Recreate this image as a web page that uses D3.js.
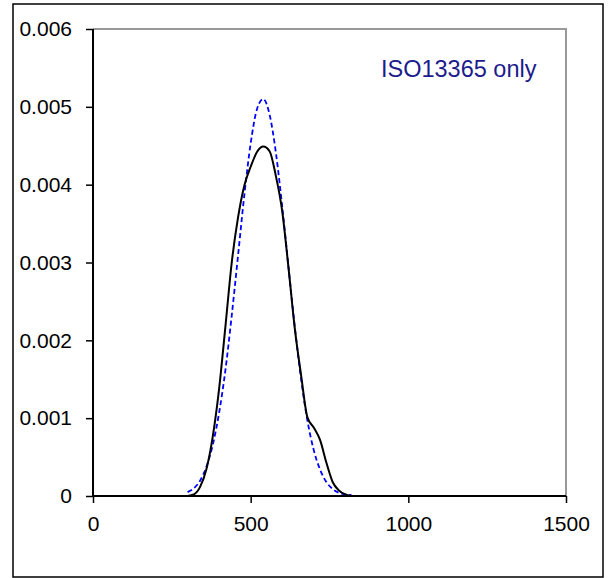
<!DOCTYPE html>
<html>
<head>
<meta charset="utf-8">
<script src="https://cdn.jsdelivr.net/npm/d3@7"></script>
<style>
  body { margin: 0; background: #fff; }
  svg text { font-family: "Liberation Sans", Arial, sans-serif; }
</style>
</head>
<body>
<div id="chart"></div>
<script>
const width = 610, height = 578;

// x positions
const xValues = [300, 320, 340, 360, 380, 400, 420, 440, 460, 480, 500, 520, 540, 560,
                 580, 600, 620, 640, 660, 680, 700, 720, 740, 760, 780, 800, 820];

// solid black curve
const blackValues = [0, 0.00002, 0.00012, 0.00035, 0.00077, 0.00138, 0.00218, 0.00300, 0.00358,
                     0.00399, 0.00423, 0.00442, 0.00449, 0.00443, 0.00411, 0.00366, 0.00293,
                     0.00215, 0.00155, 0.00101, 0.00088, 0.00072, 0.00043, 0.00018, 0.00007,
                     0.00002, 0];

// dashed blue curve
const blueValues = [0.00005, 0.00010, 0.00020, 0.00038, 0.00066, 0.00107, 0.00162, 0.00232,
                    0.00309, 0.00387, 0.00453, 0.00497, 0.00510, 0.00490, 0.00441, 0.00372,
                    0.00294, 0.00217, 0.00150, 0.00097, 0.00059, 0.00034, 0.00018, 0.00009,
                    0.00004, 0.00002, 0.00001];

const xTicks = [0, 500, 1000, 1500];
const yTicks = [0, 0.001, 0.002, 0.003, 0.004, 0.005, 0.006];
const yTickLabels = ["0", "0.001", "0.002", "0.003", "0.004", "0.005", "0.006"];

const margin = {top: 29, right: 44, bottom: 82, left: 93};

const svg = d3.select("#chart")
    .append("svg")
    .attr("width", width)
    .attr("height", height);

// outer frame
svg.append("rect")
    .attr("x", 13).attr("y", 4)
    .attr("width", 590).attr("height", 573)
    .attr("fill", "none")
    .attr("stroke", "#000")
    .attr("stroke-width", 1.5);

const x = d3.scaleLinear().domain([0, 1500]).range([margin.left, width - margin.right]);
const y = d3.scaleLinear().domain([0, 0.006]).range([height - margin.bottom, margin.top]);

// plot area border (top / right, grey)
svg.append("path")
    .attr("d", `M${x(0)},${y(0.006)}H${x(1500)}V${y(0)}`)
    .attr("fill", "none")
    .attr("stroke", "#999")
    .attr("stroke-width", 2);

// axes
const yAxis = svg.append("g")
    .attr("transform", `translate(${x(0)},0)`)
    .call(d3.axisLeft(y).tickValues(yTicks).tickSize(7).tickPadding(14)
        .tickFormat((d, i) => yTickLabels[i]));

const xAxis = svg.append("g")
    .attr("transform", `translate(0,${y(0)})`)
    .call(d3.axisBottom(x).tickValues(xTicks).tickSize(7).tickPadding(13)
        .tickFormat(d3.format("d")));

[yAxis, xAxis].forEach(g => {
    g.select(".domain").attr("stroke", "#000").attr("stroke-width", 2);
    g.selectAll(".tick line").attr("stroke", "#000").attr("stroke-width", 1.5);
    g.selectAll(".tick text").attr("font-size", 21).attr("fill", "#000");
});
yAxis.select(".domain").attr("d", `M0,${y(0.006)}V${y(0)}`);
xAxis.select(".domain").attr("d", `M${x(0)},0H${x(1500)}`);

const line = d3.line()
    .x((d, i) => x(xValues[i]))
    .y(d => y(d))
    .curve(d3.curveMonotoneX);

svg.append("path")
    .datum(blueValues)
    .attr("d", line)
    .attr("fill", "none")
    .attr("stroke", "#0000ff")
    .attr("stroke-width", 1.8)
    .attr("stroke-dasharray", "5,3");

svg.append("path")
    .datum(blackValues)
    .attr("d", line)
    .attr("fill", "none")
    .attr("stroke", "#000")
    .attr("stroke-width", 2);

// annotation
svg.append("text")
    .attr("x", 381)
    .attr("y", 77)
    .attr("font-size", 23.5)
    .attr("fill", "#1c1c8c")
    .text("ISO13365 only");
</script>
</body>
</html>
